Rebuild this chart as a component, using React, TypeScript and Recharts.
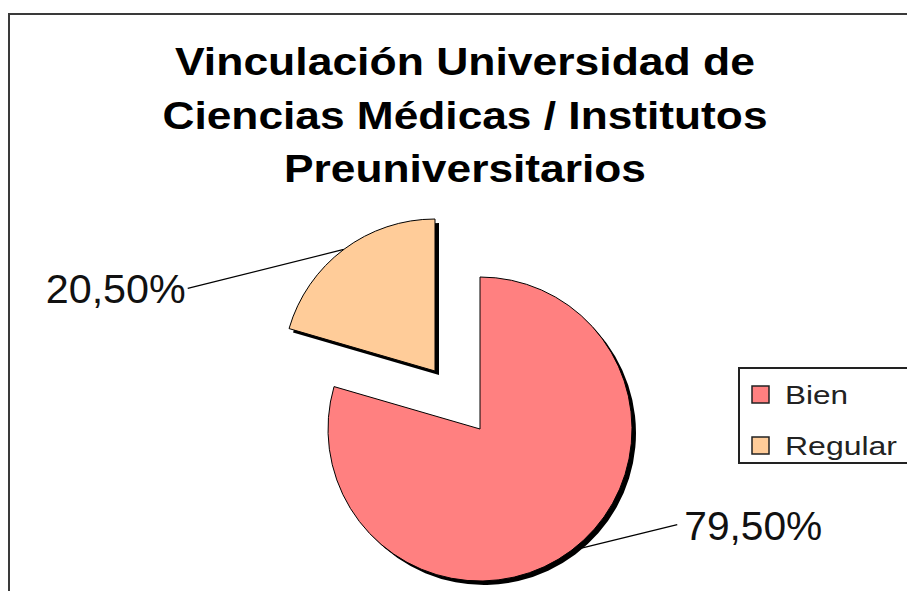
import React from 'react';
import { PieChart, Pie, Cell, Legend } from 'recharts';

const categories = ['Bien', 'Regular'];
const values = [79.5, 20.5];
const titleLines = ['Vinculación Universidad de', 'Ciencias Médicas / Institutos', 'Preuniversitarios'];

const colors = ['#FF8080', '#FFCC99'];
const FONT = '"Liberation Sans", Arial, sans-serif';

const W = 899;
const H = 578;
const R = 152;
// slice centres (Regular is pulled out of the pie)
const centers = [
  { cx: 472, cy: 416 },
  { cx: 427, cy: 358 },
];
const SHADOW = 4;
// where each label line ends, relative to the point on the arc
const labelOffsets = [
  { dx: 106, dy: -26, gap: 7, anchor: 'start', len: 138 },
  { dx: -156, dy: 39, gap: 2, anchor: 'end', len: 140 },
];
const titleLens = [580, 605, 362];

const data = categories.map((name, i) => ({ name, value: values[i] }));

const fmt = (v: number) => v.toFixed(2).replace('.', ',') + '%';

const makeLabel = (idx: number) => (props: any) => {
  if (props.index !== idx) return null;
  const { cx, cy, midAngle, outerRadius, value } = props;
  const rad = (-midAngle * Math.PI) / 180;
  const x0 = cx + outerRadius * Math.cos(rad);
  const y0 = cy + outerRadius * Math.sin(rad);
  const o = labelOffsets[idx];
  const x1 = x0 + o.dx;
  const y1 = y0 + o.dy;
  const tx = o.anchor === 'start' ? x1 + o.gap : x1 - o.gap;
  return (
    <g>
      <line x1={x0} y1={y0} x2={x1} y2={y1} stroke="#000" strokeWidth={1.2} />
      <text
        x={tx}
        y={y1 + 15}
        textAnchor={o.anchor}
        fontFamily={FONT}
        fontSize={40}
        fill="#111"
        textLength={o.len}
        lengthAdjust="spacingAndGlyphs"
      >
        {fmt(value)}
      </text>
    </g>
  );
};

const legendLens = [63, 112];

const LegendBox = () => (
  <svg width={200} height={97} style={{ display: 'block' }}>
    <rect x={1} y={1} width={198} height={95} fill="#fff" stroke="#222" strokeWidth={2} />
    {categories.map((name, i) => (
      <g key={name}>
        <rect x={14} y={19 + i * 51} width={17} height={17} fill={colors[i]} stroke="#222" strokeWidth={1.5} />
        <text
          x={47}
          y={37 + i * 51}
          fontFamily={FONT}
          fontSize={25}
          fill="#222"
          textLength={legendLens[i]}
          lengthAdjust="spacingAndGlyphs"
        >
          {name}
        </text>
      </g>
    ))}
  </svg>
);

const App: React.FC = () => {
  return (
    <div style={{ position: 'absolute', left: 8, top: 13, width: W, height: H, overflow: 'hidden', background: '#fff' }}>
      <PieChart width={W} height={H} margin={{ top: 0, right: 0, bottom: 0, left: 0 }}>
        {categories.map((_, idx) => (
          <Pie
            key={'shadow' + idx}
            data={data}
            dataKey="value"
            nameKey="name"
            cx={centers[idx].cx + SHADOW}
            cy={centers[idx].cy + SHADOW}
            outerRadius={R}
            startAngle={90}
            endAngle={-270}
            stroke="none"
            legendType="none"
            isAnimationActive={false}
          >
            {data.map((d, i) => (
              <Cell key={d.name} fill={i === idx ? '#000' : 'none'} stroke="none" />
            ))}
          </Pie>
        ))}
        {categories.map((_, idx) => (
          <Pie
            key={'slice' + idx}
            data={data}
            dataKey="value"
            nameKey="name"
            cx={centers[idx].cx}
            cy={centers[idx].cy}
            outerRadius={R}
            startAngle={90}
            endAngle={-270}
            label={makeLabel(idx)}
            labelLine={false}
            isAnimationActive={false}
          >
            {data.map((d, i) => (
              <Cell
                key={d.name}
                fill={i === idx ? colors[i] : 'none'}
                stroke={i === idx ? '#000' : 'none'}
                strokeWidth={1}
              />
            ))}
          </Pie>
        ))}
        <Legend
          content={() => <LegendBox />}
          wrapperStyle={{ position: 'absolute', left: 730, top: 354, width: 200, height: 97 }}
        />
      </PieChart>
      <svg width={W} height={200} style={{ position: 'absolute', left: 0, top: 0, pointerEvents: 'none' }}>
        {titleLines.map((t, i) => (
          <text
            key={t}
            x={457}
            y={62 + i * 53.5}
            textAnchor="middle"
            fontFamily={FONT}
            fontWeight="bold"
            fontSize={39}
            fill="#000"
            textLength={titleLens[i]}
            lengthAdjust="spacingAndGlyphs"
          >
            {t}
          </text>
        ))}
      </svg>
      <div
        style={{
          position: 'absolute',
          left: 0,
          top: 0,
          width: W,
          height: H,
          borderLeft: '2px solid #3a3a3a',
          borderTop: '2px solid #3a3a3a',
          boxSizing: 'border-box',
          pointerEvents: 'none',
        }}
      />
    </div>
  );
};

export default App;
